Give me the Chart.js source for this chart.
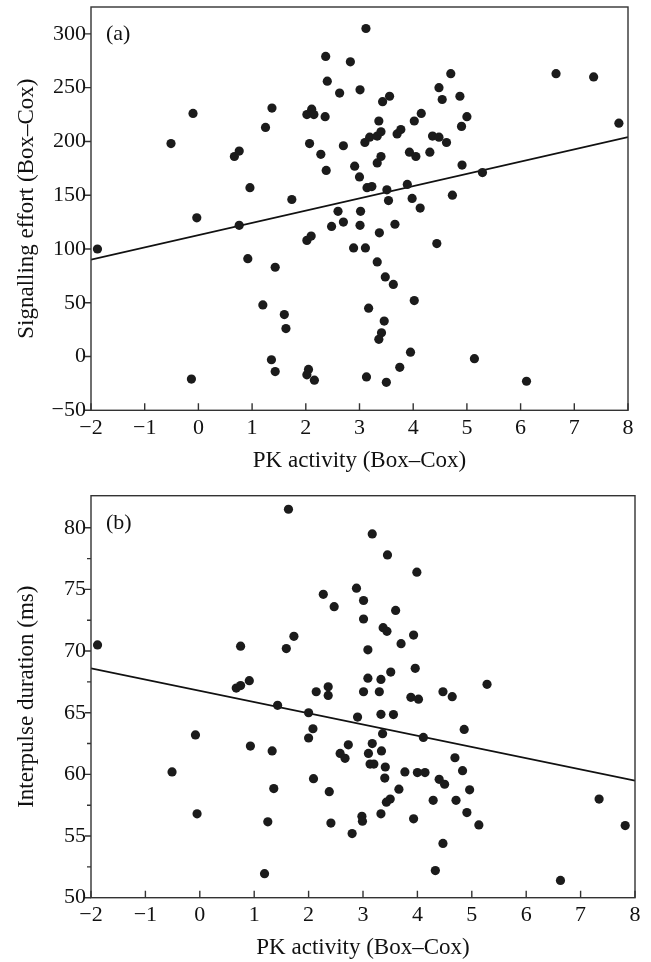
<!DOCTYPE html>
<html>
<head>
<meta charset="utf-8">
<script src="https://cdn.jsdelivr.net/npm/chart.js@4"></script>
<style>
  body { margin: 0; background: #fff; }
  canvas { position: absolute; left: 0; }
</style>
</head>
<body>
<canvas id="chartA" width="651" height="480" style="top:0"></canvas>
<canvas id="chartB" width="651" height="482" style="top:480px"></canvas>
<script>
// shared x axis
var xTicks = [-2, -1, 0, 1, 2, 3, 4, 5, 6, 7, 8];
var fitX = [-2, 8];

// (a) signalling effort
var pkA = [-1.88,-0.51,-0.10,-0.03,-0.13,0.67,0.76,0.76,0.92,0.96,
  1.25,1.37,1.20,1.43,1.36,1.43,1.60,1.63,1.74,2.02,
  2.11,2.15,2.07,2.28,2.36,2.37,2.40,2.38,2.02,2.10,
  2.05,2.02,2.16,2.48,2.60,2.70,2.63,2.83,3.01,3.12,
  2.70,2.89,3.11,3.02,3.01,2.91,3.00,3.10,3.19,3.33,
  3.40,3.36,3.43,3.56,3.40,3.33,3.14,3.23,3.51,3.54,
  3.37,3.66,3.33,3.48,3.63,3.17,3.46,3.41,3.36,3.13,
  3.50,3.75,3.95,4.02,3.70,3.77,3.93,4.05,3.89,3.98,
  4.13,4.02,4.15,4.31,4.36,4.48,4.44,4.48,4.54,4.62,
  4.70,4.73,4.87,4.90,5.00,4.91,5.29,5.14,6.11,6.66,
  7.36,7.83];
var effortA = [100,198,226,129,-21,186,191,122,91,157,
  213,231,48,83,-3,-14,39,26,146,225,
  230,225,198,188,223,279,256,173,108,112,
  -12,-17,-22,121,135,125,245,274,248,305,
  196,101,101,135,122,177,167,199,204,205,
  209,219,237,242,186,180,157,158,155,145,
  115,123,88,74,67,45,33,22,16,-19,
  -24,-10,4,52,207,211,190,186,160,147,
  138,219,226,190,205,204,105,250,239,199,
  263,150,242,214,223,178,171,-2,-23,263,
  260,217];
var fitA = [90, 204];
var yTicksA = [-50, 0, 50, 100, 150, 200, 250, 300];

// (b) interpulse duration
var pkB = [-1.88,1.63,2.27,0.75,1.59,1.73,0.67,0.75,0.91,2.14,
  1.43,3.17,3.45,3.99,2.88,2.47,3.01,3.60,3.01,3.37,
  3.44,3.93,3.70,3.09,3.51,3.96,3.09,3.33,5.28,3.01,
  3.30,2.36,2.36,4.47,4.64,3.88,4.02,2.00,2.08,2.00,
  -0.08,0.93,1.33,-0.51,2.09,1.36,2.38,-0.05,1.25,2.41,
  1.19,2.90,3.33,3.56,3.36,4.11,4.86,2.73,3.17,2.58,
  2.67,3.10,3.34,3.13,3.20,3.41,3.40,3.77,4.00,4.14,
  4.69,4.83,4.40,4.50,4.96,3.66,3.50,3.43,4.29,4.71,
  3.33,2.98,2.99,3.93,4.91,5.13,2.80,4.47,7.34,7.82,
  4.33,6.63];
var durationB = [70.5,81.5,74.6,70.4,70.2,71.2,67.0,67.2,67.6,66.7,
  65.6,79.5,77.8,76.4,75.1,73.6,74.1,73.3,72.6,71.9,
  71.6,71.3,70.6,70.1,68.3,68.6,67.8,67.7,67.3,66.7,
  66.7,67.1,66.4,66.7,66.3,66.25,66.1,65.0,63.7,62.95,
  63.2,62.3,61.9,60.2,59.65,58.85,58.6,56.8,56.15,56.05,
  51.95,64.65,64.87,64.85,63.3,63.0,63.65,62.4,62.5,61.7,
  61.3,61.7,61.9,60.84,60.84,60.6,59.7,60.2,60.15,60.15,
  61.35,60.3,59.6,59.2,58.75,58.8,58.0,57.75,57.9,57.9,
  56.8,56.6,56.2,56.4,56.9,55.9,55.2,54.4,58.0,55.85,
  52.2,51.4];
var fitB = [68.6, 59.5];
var yTicksB = [50, 55, 60, 65, 70, 75, 80];
var yMinorB = [52.5, 57.5, 62.5, 67.5, 72.5, 77.5];

Chart.defaults.font.family = '"Liberation Serif", "DejaVu Serif", serif';
Chart.defaults.color = '#111';

var tickFont = { family: '"Liberation Serif", serif', size: 22 };
var titleFont = { family: '"Liberation Serif", serif', size: 23 };

// frame, inward x ticks, outward y ticks and the panel letter
var framePlugin = {
  id: 'frame',
  afterDraw: function(chart, args, opts) {
    var ctx = chart.ctx, a = chart.chartArea;
    var xs = chart.scales.x, ys = chart.scales.y;
    ctx.save();
    ctx.strokeStyle = '#333';
    ctx.lineWidth = 1.4;
    ctx.strokeRect(a.left, a.top, a.right - a.left, a.bottom - a.top);
    ctx.beginPath();
    xTicks.forEach(function(v) {
      var p = xs.getPixelForValue(v);
      ctx.moveTo(p, a.bottom);
      ctx.lineTo(p, a.bottom - 7);
    });
    opts.yTicks.forEach(function(v) {
      var p = ys.getPixelForValue(v);
      ctx.moveTo(a.left, p);
      ctx.lineTo(a.left - 6, p);
    });
    (opts.minor || []).forEach(function(v) {
      var p = ys.getPixelForValue(v);
      ctx.moveTo(a.left, p);
      ctx.lineTo(a.left - 4, p);
    });
    ctx.stroke();
    ctx.fillStyle = '#111';
    ctx.font = '22px "Liberation Serif", serif';
    ctx.textBaseline = 'middle';
    ctx.fillText(opts.letter, a.left + 15, ys.getPixelForValue(opts.letterAt));
    ctx.restore();
  }
};

function minus(v) { return String(v).replace('-', '\u2212'); }

function makeChart(id, xs, ys, fitY, cfg) {
  var pts = xs.map(function(x, i) { return { x: x, y: ys[i] }; });
  return new Chart(document.getElementById(id), {
    type: 'scatter',
    data: {
      datasets: [{
        data: pts,
        pointRadius: 4.6,
        pointBackgroundColor: '#1b1b1b',
        pointBorderWidth: 0
      }, {
        type: 'line',
        data: fitX.map(function(x, i) { return { x: x, y: fitY[i] }; }),
        borderColor: '#111',
        borderWidth: 1.8,
        pointRadius: 0
      }]
    },
    options: {
      responsive: false,
      animation: false,
      events: [],
      layout: { padding: cfg.padding },
      plugins: {
        legend: { display: false },
        tooltip: { enabled: false },
        frame: { yTicks: cfg.yTicks, minor: cfg.minor, letter: cfg.letter, letterAt: cfg.letterAt }
      },
      scales: {
        x: {
          type: 'linear', min: -2, max: 8,
          afterBuildTicks: function(s) { s.ticks = xTicks.map(function(v) { return { value: v }; }); },
          afterFit: function(s) { s.height = cfg.xHeight; s.paddingLeft = 0; s.paddingRight = 0; },
          grid: { display: false, drawTicks: false },
          border: { display: false },
          ticks: { padding: 4.5, font: tickFont, color: '#111', callback: minus },
          title: { display: true, text: 'PK activity (Box–Cox)', font: titleFont, color: '#111', padding: { top: 0, bottom: cfg.titlePad } }
        },
        y: {
          type: 'linear', min: cfg.yMin, max: cfg.yMax,
          afterBuildTicks: function(s) { s.ticks = cfg.yTicks.map(function(v) { return { value: v }; }); },
          afterFit: function(s) { s.width = 91; s.paddingTop = 0; s.paddingBottom = 0; },
          grid: { display: false, drawTicks: false },
          border: { display: false },
          ticks: { padding: 5, font: tickFont, color: '#111', callback: minus },
          title: { display: true, text: cfg.yTitle, font: titleFont, color: '#111', padding: { top: 13.5, bottom: 0 } }
        }
      }
    },
    plugins: [framePlugin]
  });
}

makeChart('chartA', pkA, effortA, fitA, {
  padding: { top: 7, right: 23, left: 0, bottom: 0 },
  xHeight: 69.7, titlePad: 5,
  yMin: -50, yMax: 325, yTicks: yTicksA, minor: [],
  yTitle: 'Signalling effort (Box–Cox)', letter: '(a)', letterAt: 300
});

makeChart('chartB', pkB, durationB, fitB, {
  padding: { top: 15.7, right: 16, left: 0, bottom: 0 },
  xHeight: 64.3, titlePad: 0,
  yMin: 50, yMax: 82.6, yTicks: yTicksB, minor: yMinorB,
  yTitle: 'Interpulse duration (ms)', letter: '(b)', letterAt: 80.4
});
</script>
</body>
</html>
